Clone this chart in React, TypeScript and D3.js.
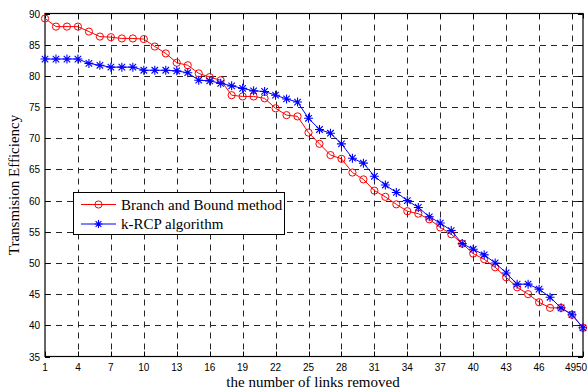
import React from "react";
import * as d3 from "d3";

// links removed, 1..50
const linksRemoved = d3.range(1, 51);

const branchBound = [
  89.2, 87.9, 87.9, 87.9, 87.1, 86.3, 86.2, 86.0, 86.0, 85.9,
  84.7, 83.6, 82.1, 81.7, 80.4, 79.8, 79.3, 76.9, 76.7, 76.7,
  76.4, 74.8, 73.7, 73.5, 70.9, 69.1, 67.3, 66.7, 64.5, 63.4,
  61.6, 60.6, 59.4, 58.3, 57.9, 57.0, 55.7, 54.6, 53.1, 51.5,
  50.6, 49.3, 47.7, 46.1, 45.0, 43.7, 42.8, 42.8, 41.7, 39.6,
];

const kRcp = [
  82.7, 82.7, 82.7, 82.7, 82.0, 81.7, 81.4, 81.4, 81.4, 80.9,
  80.9, 80.9, 80.8, 80.5, 79.3, 79.2, 78.8, 78.4, 78.0, 77.6,
  77.5, 76.9, 76.3, 75.8, 73.2, 71.4, 70.8, 69.1, 66.8, 66.0,
  63.9, 62.5, 61.3, 60.0, 58.9, 57.4, 56.4, 55.2, 53.1, 52.2,
  51.3, 50.0, 48.4, 46.6, 46.6, 45.8, 44.5, 42.8, 41.7, 39.6,
];

const xTicks = [1, 4, 7, 10, 13, 16, 19, 22, 25, 28, 31, 34, 37, 40, 43, 46, 49, 50];
const yTicks = [35, 40, 45, 50, 55, 60, 65, 70, 75, 80, 85, 90];

const W = 587;
const H = 392;
const left = 45;
const right = 583;
const top = 13.5;
const bottom = 356.5;

const x = d3.scaleLinear().domain([1, 50]).range([left, right]);
const y = d3.scaleLinear().domain([35, 90]).range([bottom, top]);

// snap grid lines to pixel centres so they stay dark
const px = (v: number) => Math.round(v) + 0.5;

const line = d3
  .line<number>()
  .x((_, i) => x(linksRemoved[i]))
  .y((d) => y(d));

// matlab style '*' marker: plus + cross
const star = (cx: number, cy: number, r: number) => {
  const d = r * 0.72;
  return `M${cx - r},${cy}L${cx + r},${cy}M${cx},${cy - r}L${cx},${cy + r}` +
    `M${cx - d},${cy - d}L${cx + d},${cy + d}M${cx - d},${cy + d}L${cx + d},${cy - d}`;
};

const App = () => {
  const tickFont = "'Liberation Sans', Arial, sans-serif";
  const serif = "'Liberation Serif', 'Times New Roman', serif";
  // 49 and 50 sit side by side, reading "4950" like the original
  const split = 576;
  return (
    <svg
      width={W}
      height={H}
      style={{ position: "absolute", left: 0, top: 0, background: "#fff" }}
    >
      {/* grid */}
      <g stroke="#000" strokeWidth={1} strokeDasharray="6,5" opacity={0.85}>
        {xTicks.slice(1, -1).map((t) => (
          <line key={"gx" + t} x1={px(x(t))} x2={px(x(t))} y1={top} y2={bottom} />
        ))}
        {yTicks.slice(1, -1).map((t) => (
          <line key={"gy" + t} x1={left} x2={right} y1={px(y(t))} y2={px(y(t))} />
        ))}
      </g>

      {/* inward tick marks */}
      <g stroke="#000" strokeWidth={1}>
        {xTicks.map((t) => (
          <g key={"tx" + t}>
            <line x1={px(x(t))} x2={px(x(t))} y1={bottom} y2={bottom - 5} />
            <line x1={px(x(t))} x2={px(x(t))} y1={top} y2={top + 5} />
          </g>
        ))}
        {yTicks.map((t) => (
          <g key={"ty" + t}>
            <line x1={left} x2={left + 5} y1={px(y(t))} y2={px(y(t))} />
            <line x1={right} x2={right - 5} y1={px(y(t))} y2={px(y(t))} />
          </g>
        ))}
      </g>

      {/* frame */}
      <rect
        x={left}
        y={top}
        width={right - left}
        height={bottom - top}
        fill="none"
        stroke="#000"
        strokeWidth={1.2}
      />

      {/* series */}
      <path d={line(branchBound) || ""} fill="none" stroke="#ff0000" strokeWidth={1} />
      {branchBound.map((v, i) => (
        <circle
          key={"r" + i}
          cx={x(linksRemoved[i])}
          cy={y(v)}
          r={3.6}
          fill="none"
          stroke="#ff0000"
          strokeWidth={1}
        />
      ))}
      <path d={line(kRcp) || ""} fill="none" stroke="#0000ff" strokeWidth={1} />
      {kRcp.map((v, i) => (
        <path
          key={"b" + i}
          d={star(x(linksRemoved[i]), y(v), 4.5)}
          stroke="#0000ff"
          strokeWidth={1.1}
        />
      ))}

      {/* tick labels */}
      <g fontFamily={tickFont} fontSize={10} fill="#000">
        {xTicks.map((t) => {
          if (t === 49)
            return (
              <text key={"lx" + t} x={split} y={371} textAnchor="end">
                {t}
              </text>
            );
          if (t === 50)
            return (
              <text key={"lx" + t} x={split} y={371} textAnchor="start">
                {t}
              </text>
            );
          return (
            <text key={"lx" + t} x={x(t)} y={371} textAnchor="middle">
              {t}
            </text>
          );
        })}
        {yTicks.map((t) => (
          <text key={"ly" + t} x={40} y={y(t) + 4} textAnchor="end">
            {t}
          </text>
        ))}
      </g>

      {/* axis titles */}
      <text
        x={313}
        y={387}
        textAnchor="middle"
        fontFamily={serif}
        fontSize={15}
      >
        the number of links removed
      </text>
      <text
        transform={`translate(19,${(top + bottom) / 2}) rotate(-90)`}
        textAnchor="middle"
        fontFamily={serif}
        fontSize={15}
      >
        Transmision Efficiency
      </text>

      {/* legend */}
      <g>
        <rect x={73.5} y={192.5} width={211} height={42} fill="#fff" stroke="#000" strokeWidth={1} />
        <line x1={81} x2={116} y1={204.5} y2={204.5} stroke="#ff0000" strokeWidth={1} />
        <circle cx={98.5} cy={204.5} r={3.6} fill="none" stroke="#ff0000" strokeWidth={1} />
        <text x={121} y={209.5} fontFamily={serif} fontSize={15}>
          Branch and Bound method
        </text>
        <line x1={81} x2={116} y1={224} y2={224} stroke="#0000ff" strokeWidth={1} />
        <path d={star(98.5, 224, 4)} stroke="#0000ff" strokeWidth={1.1} />
        <text x={121} y={229} fontFamily={serif} fontSize={15}>
          k-RCP algorithm
        </text>
      </g>
    </svg>
  );
};

export default App;
